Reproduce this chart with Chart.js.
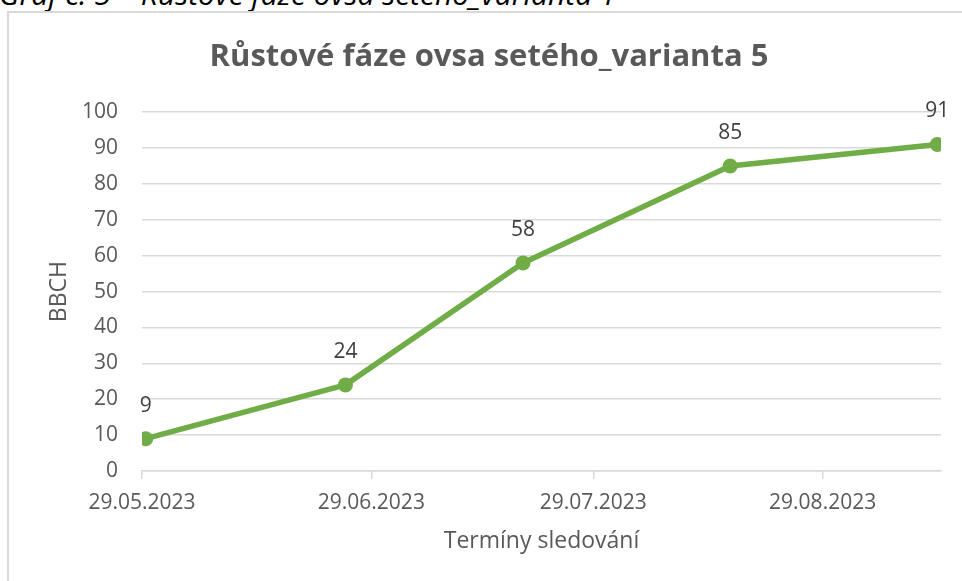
<!DOCTYPE html>
<html>
<head>
<meta charset="utf-8">
<title>Růstové fáze ovsa setého_varianta 5</title>
<script src="https://cdn.jsdelivr.net/npm/chart.js@4.4.0/dist/chart.umd.min.js"></script>
<style>
    html, body { margin: 0; padding: 0; background: #fff; overflow: hidden; }
    body { width: 962px; height: 581px; position: relative; }
    #caption {
        position: absolute; left: -1px; top: -27px;
        font: italic 30px 'Open Sans'; color: #000; white-space: nowrap;
    }
    #frame {
        position: absolute; left: 7px; top: 11px;
        width: 1000px; height: 1000px; border: 2px solid #d9d9d9;
    }
    #graf { position: absolute; left: 0; top: 0; }
</style>
</head>
<body>
<div id="caption">Graf č. 5 – Růstové fáze ovsa setého_varianta 1</div>
<div id="frame"></div>
<canvas id="graf" width="962" height="581"></canvas>
<script>
    // terminy sledovani a faze BBCH
    const dates = ['29.05.2023', '25.06.2023', '19.07.2023', '16.08.2023', '13.09.2023'];
    const bbch = [9, 24, 58, 85, 91];

    // popisky osy x (mesicni kroky) a konec osy
    const tickDates = ['29.05.2023', '29.06.2023', '29.07.2023', '29.08.2023'];
    const axisEnd = '14.09.2023';

    const yMin = 0;
    const yMax = 100;
    const yStep = 10;

    const toDay = (s) => {
        const [d, m, y] = s.split('.').map(Number);
        return Date.UTC(y, m - 1, d) / 86400000;
    };
    const day0 = toDay(dates[0]);

    const fmtDay = (v) => {
        const dt = new Date((day0 + v) * 86400000);
        const dd = String(dt.getUTCDate()).padStart(2, '0');
        const mm = String(dt.getUTCMonth() + 1).padStart(2, '0');
        return dd + '.' + mm + '.' + dt.getUTCFullYear();
    };

    // Excel kresli bod doprostred dne
    const points = dates.map((d, i) => ({ x: toDay(d) - day0 + 0.5, y: bbch[i] }));

    const grey = '#595959';
    const gridGrey = '#d9d9d9';
    const green = '#70AD47';
    const font = 'Open Sans';

    const pointLabels = {
        id: 'pointLabels',
        afterDatasetsDraw(chart) {
            const ctx = chart.ctx;
            const meta = chart.getDatasetMeta(0);
            ctx.save();
            ctx.font = '21px "' + font + '"';
            ctx.fillStyle = '#404040';
            ctx.textAlign = 'center';
            ctx.textBaseline = 'middle';
            meta.data.forEach((pt, i) => {
                ctx.fillText(String(bbch[i]), pt.x, pt.y - 33);
            });
            ctx.restore();
        }
    };

    const config = {
        type: 'line',
        data: {
            datasets: [{
                label: 'BBCH',
                data: points,
                borderColor: green,
                backgroundColor: green,
                borderWidth: 5.5,
                borderJoinStyle: 'round',
                borderCapStyle: 'round',
                pointRadius: 7.5,
                pointBorderWidth: 0,
                pointBackgroundColor: green,
                tension: 0
            }]
        },
        options: {
            responsive: false,
            animation: false,
            devicePixelRatio: 1,
            layout: { padding: { left: 37, right: 21, top: 0, bottom: 0 } },
            plugins: {
                legend: { display: false },
                tooltip: { enabled: false },
                title: {
                    display: true,
                    text: 'Růstové fáze ovsa setého_varianta 5',
                    color: grey,
                    font: { family: font, size: 31, weight: 'bold' },
                    padding: { top: 39, bottom: 36 }
                }
            },
            scales: {
                x: {
                    type: 'linear',
                    min: 0,
                    max: toDay(axisEnd) - day0,
                    afterBuildTicks: (s) => {
                        s.ticks = tickDates.map(t => ({ value: toDay(t) - day0 }));
                    },
                    afterFit: (s) => { s.height = 110; },
                    ticks: {
                        callback: (v) => fmtDay(v),
                        color: grey,
                        font: { family: font, size: 21 },
                        padding: 11,
                        maxRotation: 0,
                        autoSkip: false
                    },
                    grid: {
                        drawOnChartArea: false,
                        drawTicks: true,
                        tickLength: 8,
                        color: gridGrey,
                        lineWidth: 1.5
                    },
                    border: { display: true, color: gridGrey, width: 1.5 },
                    title: {
                        display: true,
                        text: 'Termíny sledování',
                        color: grey,
                        font: { family: font, size: 23 },
                        padding: { top: 0, bottom: 26 }
                    }
                },
                y: {
                    min: yMin,
                    max: yMax,
                    afterFit: (s) => { s.width = 105; },
                    ticks: {
                        stepSize: yStep,
                        color: grey,
                        font: { family: font, size: 21 },
                        padding: 24
                    },
                    grid: { color: gridGrey, lineWidth: 1.5, drawTicks: false },
                    border: { display: false },
                    title: {
                        display: true,
                        text: 'BBCH',
                        color: grey,
                        font: { family: font, size: 23 },
                        padding: { top: 9, bottom: 0 }
                    }
                }
            }
        },
        plugins: [pointLabels]
    };

    const graf = new Chart(document.getElementById('graf'), config);
</script>
</body>
</html>
